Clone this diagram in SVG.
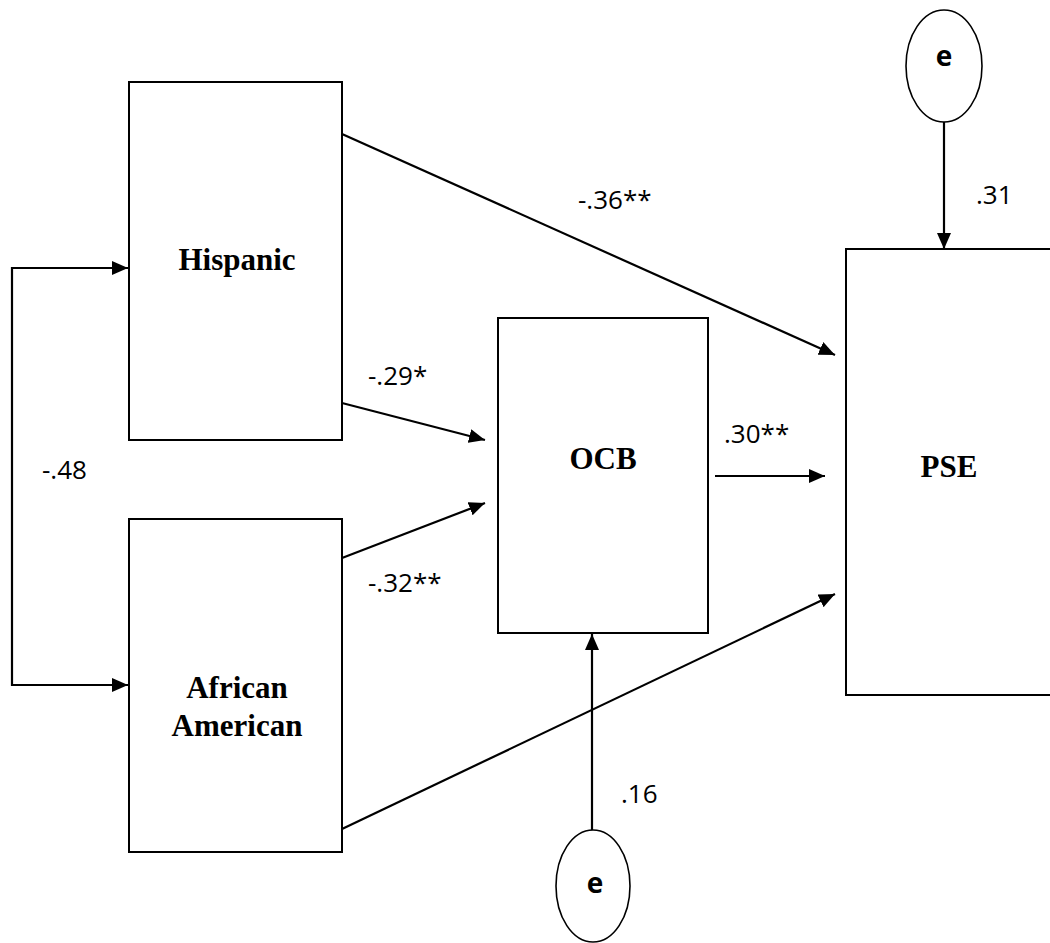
<svg xmlns="http://www.w3.org/2000/svg" width="1050" height="943" viewBox="0 0 1050 943">
<style>
.box{fill:#fff;stroke:#000;stroke-width:2}
.ell{fill:#fff;stroke:#000;stroke-width:1.6}
.con{fill:none;stroke:#000;stroke-width:2.2}
.nt{font-family:"Liberation Serif",serif;font-weight:bold;font-size:31px;text-anchor:middle}
.et{font-family:"Open Sans","Liberation Sans",sans-serif;font-weight:bold;font-size:28px;text-anchor:middle}
.lb{font-family:"Open Sans","Liberation Sans",sans-serif;font-size:26px}
</style>
<defs>
<marker id="ahb" markerWidth="16" markerHeight="14" refX="16" refY="7" orient="auto-start-reverse" markerUnits="userSpaceOnUse" viewBox="0 0 16 14">
<path d="M0,0 L16,7 L0,14 z" fill="#000"/>
</marker>
</defs>
<g id="hispanic"><rect class="box" x="129" y="82" width="213" height="358"/><text class="nt" x="237" y="270">Hispanic</text></g>
<g id="african-american"><rect class="box" x="129" y="519" width="213" height="333"/><text class="nt" x="237" y="698">African</text><text class="nt" x="237" y="736">American</text></g>
<g id="ocb"><rect class="box" x="498" y="318" width="210" height="315"/><text class="nt" x="603" y="469">OCB</text></g>
<g id="pse"><rect class="box" x="846" y="249" width="220" height="446"/><text class="nt" x="949" y="477">PSE</text></g>
<g id="e-pse"><ellipse class="ell" cx="944" cy="66" rx="38" ry="56"/><text class="et" x="944" y="66">e</text></g>
<g id="e-ocb"><ellipse class="ell" cx="593" cy="886" rx="37" ry="56"/><text class="et" x="595" y="893">e</text></g>
<g id="connectors">
<path class="con" d="M342,134 L835,355" marker-end="url(#ahb)"/>
<path class="con" d="M342,403 L485,440" marker-end="url(#ahb)"/>
<path class="con" d="M342,558 L485,503" marker-end="url(#ahb)"/>
<path class="con" d="M715,476 L825,476" marker-end="url(#ahb)"/>
<path class="con" d="M342,829 L835,594" marker-end="url(#ahb)"/>
<path class="con" d="M944,122 L944,249" marker-end="url(#ahb)"/>
<path class="con" d="M592,830 L592,634" marker-end="url(#ahb)"/>
<path class="con" d="M128,268 L12,268 L12,685 L128,685" marker-start="url(#ahb)" marker-end="url(#ahb)"/>
<text class="lb" x="578" y="209">-.36**</text>
<text class="lb" x="368" y="385">-.29*</text>
<text class="lb" x="724" y="443">.30**</text>
<text class="lb" x="368" y="592">-.32**</text>
<text class="lb" x="42" y="479">-.48</text>
<text class="lb" x="976" y="204">.31</text>
<text class="lb" x="621" y="803">.16</text>
</g>
</svg>
